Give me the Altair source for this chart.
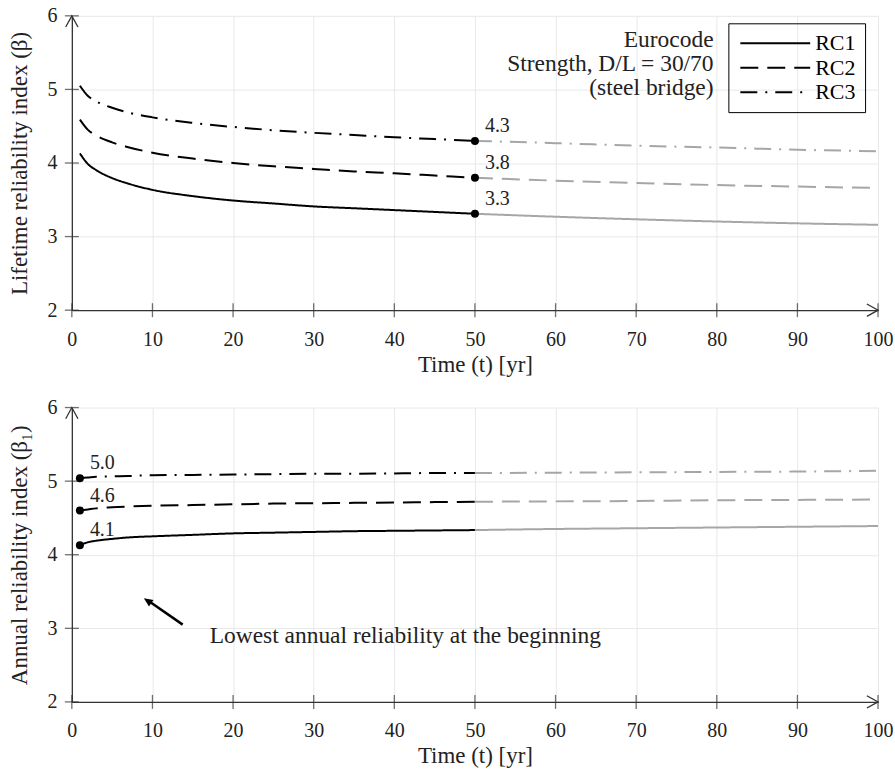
import altair as alt
import pandas as pd

FONT = "Liberation Serif"

# ---------------- data ----------------
T = [1, 2, 3, 5, 7, 10, 15, 20, 25, 30, 35, 40, 45, 50, 60, 70, 80, 90, 100]
SERIES = ["RC1", "RC2", "RC3"]

LIFE_RC1 = [4.13, 3.985, 3.905, 3.795, 3.72, 3.635, 3.55, 3.49, 3.45, 3.41, 3.385, 3.36, 3.335, 3.31, 3.27, 3.235, 3.205, 3.18, 3.16]
LIFE_RC2 = [4.59, 4.45, 4.375, 4.28, 4.215, 4.14, 4.06, 4.00, 3.955, 3.92, 3.885, 3.86, 3.83, 3.80, 3.76, 3.73, 3.70, 3.68, 3.66]
LIFE_RC3 = [5.05, 4.91, 4.84, 4.75, 4.685, 4.62, 4.545, 4.49, 4.445, 4.41, 4.38, 4.35, 4.325, 4.30, 4.27, 4.235, 4.21, 4.18, 4.16]

ANN_RC1 = [4.13, 4.17, 4.19, 4.215, 4.235, 4.25, 4.27, 4.29, 4.30, 4.31, 4.32, 4.325, 4.33, 4.335, 4.35, 4.36, 4.37, 4.38, 4.39]
ANN_RC2 = [4.60, 4.615, 4.63, 4.645, 4.655, 4.665, 4.675, 4.685, 4.695, 4.70, 4.705, 4.71, 4.715, 4.72, 4.725, 4.73, 4.74, 4.745, 4.75]
ANN_RC3 = [5.04, 5.05, 5.06, 5.065, 5.07, 5.08, 5.085, 5.09, 5.095, 5.10, 5.10, 5.105, 5.11, 5.11, 5.115, 5.12, 5.125, 5.13, 5.14]

DESIGN_LIFE = 50          # black up to here, grey afterwards
X_TICKS = list(range(0, 101, 10))
Y_TICKS = [2, 3, 4, 5, 6]

NOTE_LINES = ["Eurocode", "Strength, D/L = 30/70", "(steel bridge)"]
NOTE_AT = (79.6, 5.84)
ARROW_TAIL = (13.75, 3.05)
ARROW_TIP = (8.93, 3.41)
ARROW_SHAFT_END = (9.75, 3.355)
ARROW_TEXT = "Lowest annual reliability at the beginning"
ARROW_TEXT_AT = (17.1, 2.90)

DASHES = [[1, 0], [18, 9], [17, 8, 2, 8]]
BLACK = "#000000"
GREY = "#a6a6a6"
AXIS_C = "#333333"
TXT = 23.5  # prose font size
LEG = 22
NUM = 20    # number font size


def long_frame(vals_list):
    rows = []
    for s, vals in zip(SERIES, vals_list):
        for t, v in zip(T, vals):
            if t <= DESIGN_LIFE:
                rows.append(dict(t=t, b=v, s=s, part="a"))
            if t >= DESIGN_LIFE:
                rows.append(dict(t=t, b=v, s=s, part="b"))
    return pd.DataFrame(rows)


def marker_frame(vals_list, at_t):
    i = T.index(at_t)
    return pd.DataFrame([dict(t=at_t, b=vals[i], s=s) for s, vals in zip(SERIES, vals_list)])


life = long_frame([LIFE_RC1, LIFE_RC2, LIFE_RC3])
ann = long_frame([ANN_RC1, ANN_RC2, ANN_RC3])
life_mk = marker_frame([LIFE_RC1, LIFE_RC2, LIFE_RC3], DESIGN_LIFE)
ann_mk = marker_frame([ANN_RC1, ANN_RC2, ANN_RC3], 1)

xticks_df = pd.DataFrame(dict(t=X_TICKS, b=[Y_TICKS[0]] * len(X_TICKS)))
yticks_df = pd.DataFrame(dict(t=[X_TICKS[0]] * len(Y_TICKS), b=Y_TICKS))
chev_df = pd.DataFrame(dict(t=[X_TICKS[0], X_TICKS[-1]], b=[Y_TICKS[-1], Y_TICKS[0]], ang=[0, 90]))

W, H = 808, 295


def x_enc():
    return alt.X("t:Q", scale=alt.Scale(domain=[0, 100], nice=False, zero=False),
                 axis=alt.Axis(values=X_TICKS, title="Time (t) [yr]", labelPadding=19,
                               titlePadding=4, format="d", labelFlush=False))


def y_enc(title):
    return alt.Y("b:Q", scale=alt.Scale(domain=[2, 6], nice=False, zero=False),
                 axis=alt.Axis(values=Y_TICKS, title=title, labelPadding=15, titlePadding=15,
                               format="d", labelFlush=False))


def panel(df, mk_df, title, legend, extra=None):
    xe, ye = x_enc(), y_enc(title)
    if legend:
        dash_legend = alt.Legend(
            orient="none", legendX=658, legendY=7.5, title=None,
            symbolType="M-7,0L7,0", symbolSize=100, symbolStrokeWidth=2,
            symbolStrokeColor=BLACK, symbolOffset=27, labelOffset=29,
            labelFont=FONT, labelFontSize=LEG, labelColor=BLACK,
            strokeColor=BLACK, padding=9, rowPadding=2.5)
    else:
        dash_legend = None
    lines = alt.Chart(df).mark_line(strokeWidth=2, interpolate="monotone").encode(
        x=xe, y=ye,
        color=alt.Color("part:N", scale=alt.Scale(domain=["a", "b"], range=[BLACK, GREY]), legend=None),
        strokeDash=alt.StrokeDash("s:N", scale=alt.Scale(domain=SERIES, range=DASHES), legend=dash_legend),
    )
    pts = alt.Chart(mk_df).mark_circle(size=64, color=BLACK, opacity=1).encode(x=xe, y=ye)
    lbl = alt.Chart(mk_df).mark_text(align="left", baseline="middle", dx=10, dy=-15,
                                     fontSize=NUM, font=FONT, color="#222").encode(
        x=xe, y=ye, text=alt.Text("b:Q", format=".1f"))
    xt = alt.Chart(xticks_df).mark_tick(orient="vertical", size=14, thickness=1.3, color=AXIS_C).encode(x=xe, y=ye)
    yt = alt.Chart(yticks_df).mark_tick(orient="horizontal", size=14, thickness=1.3, color=AXIS_C).encode(x=xe, y=ye)
    chev = alt.Chart(chev_df).mark_point(shape="M-0.55,1L0,0L0.55,1", size=500, filled=False,
                                         stroke=AXIS_C, strokeWidth=1.3, opacity=1).encode(
        x=xe, y=ye, angle=alt.Angle("ang:Q", scale=None))
    layers = [lines, xt, yt, chev, pts, lbl]
    if extra:
        layers += extra(xe, ye)
    return alt.layer(*layers).properties(width=W, height=H)


def top_extra(xe, ye):
    note_df = pd.DataFrame([dict(t=NOTE_AT[0], b=NOTE_AT[1])])
    return [alt.Chart(note_df).mark_text(text=NOTE_LINES, align="right", baseline="top", lineHeight=24.5,
                                         fontSize=TXT, font=FONT, color="#222").encode(x=xe, y=ye)]


def bottom_extra(xe, ye):
    shaft = pd.DataFrame([dict(t=ARROW_TAIL[0], b=ARROW_TAIL[1], t2=ARROW_SHAFT_END[0], b2=ARROW_SHAFT_END[1])])
    tip = pd.DataFrame([dict(t=ARROW_TIP[0], b=ARROW_TIP[1])])
    txt = pd.DataFrame([dict(t=ARROW_TEXT_AT[0], b=ARROW_TEXT_AT[1])])
    return [
        alt.Chart(shaft).mark_rule(strokeWidth=2.5, color=BLACK).encode(x=xe, y=ye, x2="t2:Q", y2="b2:Q"),
        alt.Chart(tip).mark_point(shape="M0,0L-0.8,1.8L0.8,1.8Z", size=100, filled=True, color=BLACK,
                                  opacity=1, angle=304.4).encode(x=xe, y=ye),
        alt.Chart(txt).mark_text(text=ARROW_TEXT, align="left", baseline="middle", fontSize=TXT,
                                 font=FONT, color="#222").encode(x=xe, y=ye),
    ]


top = panel(life, life_mk, "Lifetime reliability index (β)", True, top_extra)
bottom = panel(ann, ann_mk, "Annual reliability index (β₁)", False, bottom_extra)

chart = alt.vconcat(top, bottom, spacing=97.6, bounds="flush").resolve_legend(
    strokeDash="independent"
).properties(
    padding={"left": 8, "top": 5, "right": 2, "bottom": 5},
).configure_view(stroke=None).configure_axis(
    grid=True, gridColor="#e8e8e8", gridWidth=1,
    domainColor=AXIS_C, domainWidth=1.3, ticks=False,
    labelFont=FONT, labelFontSize=NUM, labelColor="#222",
    titleFont=FONT, titleFontSize=23, titleFontWeight="normal", titleColor="#222",
)

chart.save("out.html", embed_options={"renderer": "svg", "actions": False})
